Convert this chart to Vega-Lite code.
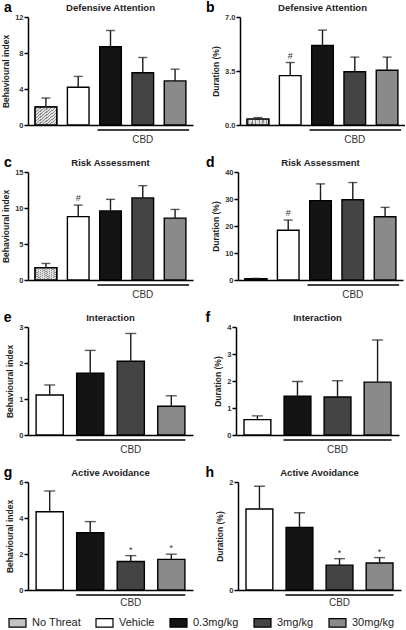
{
  "$schema": "https://vega.github.io/schema/vega-lite/v6.json",
  "padding": {"left": 1, "top": 1, "right": 0, "bottom": 0},
  "background": "white",
  "config": {
    "font": "Liberation Sans",
    "view": {"stroke": null},
    "range": {"category": ["#c4c4c4", "#ffffff", "#141414", "#444444", "#8a8a8a"]},
    "title": {"fontSize": 9.5, "fontWeight": "bold", "color": "#222", "offset": -11, "anchor": "middle", "frame": "group"},
    "axisY": {"domainColor": "black", "domainWidth": 1.5, "tickColor": "black", "tickWidth": 1.5, "tickSize": 4, "labelFontSize": 7.5, "labelFontWeight": "bold", "labelColor": "#333", "titleFontSize": 8.5, "titleFontWeight": "bold", "titleColor": "#222", "grid": false, "labelPadding": 1, "titlePadding": 4},
    "axisX": {"domainColor": "black", "domainWidth": 1.5, "labels": false, "ticks": false, "grid": false},
    "legend": {"orient": "none", "legendX": -20, "legendY": 596, "direction": "horizontal", "symbolType": "M-1,-0.5H1V0.5H-1Z", "symbolSize": 289, "symbolStrokeColor": "black", "symbolStrokeWidth": 1.2, "labelFontSize": 11, "labelColor": "#222", "columnPadding": 12, "labelOffset": 5}
  },
  "datasets": {
    "bars": [
      {"panel": "a", "group": "No Threat", "mean": 2.0, "upper": 3.0, "sig": ""},
      {"panel": "a", "group": "Vehicle", "mean": 4.2, "upper": 5.4, "sig": ""},
      {"panel": "a", "group": "0.3mg/kg", "mean": 8.7, "upper": 10.5, "sig": ""},
      {"panel": "a", "group": "3mg/kg", "mean": 5.8, "upper": 7.5, "sig": ""},
      {"panel": "a", "group": "30mg/kg", "mean": 4.9, "upper": 6.2, "sig": ""},
      {"panel": "b", "group": "No Threat", "mean": 0.38, "upper": 0.48, "sig": ""},
      {"panel": "b", "group": "Vehicle", "mean": 3.2, "upper": 4.05, "sig": "#"},
      {"panel": "b", "group": "0.3mg/kg", "mean": 5.15, "upper": 6.15, "sig": ""},
      {"panel": "b", "group": "3mg/kg", "mean": 3.45, "upper": 4.4, "sig": ""},
      {"panel": "b", "group": "30mg/kg", "mean": 3.55, "upper": 4.4, "sig": ""},
      {"panel": "c", "group": "No Threat", "mean": 1.7, "upper": 2.3, "sig": ""},
      {"panel": "c", "group": "Vehicle", "mean": 8.8, "upper": 10.4, "sig": "#"},
      {"panel": "c", "group": "0.3mg/kg", "mean": 9.6, "upper": 11.2, "sig": ""},
      {"panel": "c", "group": "3mg/kg", "mean": 11.4, "upper": 13.1, "sig": ""},
      {"panel": "c", "group": "30mg/kg", "mean": 8.6, "upper": 9.8, "sig": ""},
      {"panel": "d", "group": "No Threat", "mean": 0.5, "upper": 0.6, "sig": ""},
      {"panel": "d", "group": "Vehicle", "mean": 18.4, "upper": 22.2, "sig": "#"},
      {"panel": "d", "group": "0.3mg/kg", "mean": 29.4, "upper": 35.6, "sig": ""},
      {"panel": "d", "group": "3mg/kg", "mean": 29.7, "upper": 36.1, "sig": ""},
      {"panel": "d", "group": "30mg/kg", "mean": 23.4, "upper": 26.9, "sig": ""},
      {"panel": "e", "group": "Vehicle", "mean": 1.11, "upper": 1.39, "sig": ""},
      {"panel": "e", "group": "0.3mg/kg", "mean": 1.72, "upper": 2.35, "sig": ""},
      {"panel": "e", "group": "3mg/kg", "mean": 2.05, "upper": 2.82, "sig": ""},
      {"panel": "e", "group": "30mg/kg", "mean": 0.8, "upper": 1.09, "sig": ""},
      {"panel": "f", "group": "Vehicle", "mean": 0.57, "upper": 0.71, "sig": ""},
      {"panel": "f", "group": "0.3mg/kg", "mean": 1.44, "upper": 1.98, "sig": ""},
      {"panel": "f", "group": "3mg/kg", "mean": 1.41, "upper": 2.01, "sig": ""},
      {"panel": "f", "group": "30mg/kg", "mean": 1.96, "upper": 3.52, "sig": ""},
      {"panel": "g", "group": "Vehicle", "mean": 4.35, "upper": 5.5, "sig": ""},
      {"panel": "g", "group": "0.3mg/kg", "mean": 3.18, "upper": 3.8, "sig": ""},
      {"panel": "g", "group": "3mg/kg", "mean": 1.58, "upper": 1.91, "sig": "*"},
      {"panel": "g", "group": "30mg/kg", "mean": 1.7, "upper": 1.99, "sig": "*"},
      {"panel": "h", "group": "Vehicle", "mean": 1.5, "upper": 1.92, "sig": ""},
      {"panel": "h", "group": "0.3mg/kg", "mean": 1.16, "upper": 1.43, "sig": ""},
      {"panel": "h", "group": "3mg/kg", "mean": 0.46, "upper": 0.58, "sig": "*"},
      {"panel": "h", "group": "30mg/kg", "mean": 0.5, "upper": 0.6, "sig": "*"}
    ],
    "notes": [
      {"panel": "a", "letter": "a", "start": "0.3mg/kg", "end": "30mg/kg", "mid": "3mg/kg", "label": "CBD"},
      {"panel": "b", "letter": "b", "start": "0.3mg/kg", "end": "30mg/kg", "mid": "3mg/kg", "label": "CBD"},
      {"panel": "c", "letter": "c", "start": "0.3mg/kg", "end": "30mg/kg", "mid": "3mg/kg", "label": "CBD"},
      {"panel": "d", "letter": "d", "start": "0.3mg/kg", "end": "30mg/kg", "mid": "3mg/kg", "label": "CBD"},
      {"panel": "e", "letter": "e", "start": "0.3mg/kg", "end": "30mg/kg", "mid": "3mg/kg", "label": "CBD"},
      {"panel": "f", "letter": "f", "start": "0.3mg/kg", "end": "30mg/kg", "mid": "3mg/kg", "label": "CBD"},
      {"panel": "g", "letter": "g", "start": "0.3mg/kg", "end": "30mg/kg", "mid": "3mg/kg", "label": "CBD"},
      {"panel": "h", "letter": "h", "start": "0.3mg/kg", "end": "30mg/kg", "mid": "3mg/kg", "label": "CBD"}
    ]
  },
  "spacing": 11,
  "vconcat": [
    {"spacing": 12, "hconcat": [
      {"width": 165, "height": 108, "title": "Defensive Attention", "data": {"name": "bars"},
       "encoding": {"x": {"field": "group", "type": "nominal", "title": null, "scale": {"domain": ["No Threat", "Vehicle", "0.3mg/kg", "3mg/kg", "30mg/kg"], "paddingInner": 0.33, "paddingOuter": 0.22}}},
       "layer": [
        {"transform": [{"filter": "datum.panel === 'a'"}], "mark": {"type": "bar", "stroke": "black", "strokeWidth": 1.4},
         "encoding": {"y": {"field": "mean", "type": "quantitative", "title": "Behavioural index", "scale": {"domain": [0, 12], "nice": false}, "axis": {"values": [0, 4, 8, 12], "format": "d"}},
                      "color": {"field": "group", "type": "nominal", "title": null, "scale": {"domain": ["No Threat", "Vehicle", "0.3mg/kg", "3mg/kg", "30mg/kg"]}}}},
        {"transform": [{"filter": "datum.panel === 'a' && datum.group === 'No Threat'"}], "mark": {"type": "bar", "stroke": "black", "strokeWidth": 1.4, "fill": {"gradient": "linear", "x1": 0, "y1": 0, "x2": 1, "y2": 1, "stops": [
            {"offset": 0, "color": "#e0e0e0"}, {"offset": 0.055, "color": "#e0e0e0"}, {"offset": 0.055, "color": "#8c8c8c"}, {"offset": 0.0833, "color": "#8c8c8c"},
            {"offset": 0.0833, "color": "#e0e0e0"}, {"offset": 0.1383, "color": "#e0e0e0"}, {"offset": 0.1383, "color": "#8c8c8c"}, {"offset": 0.1667, "color": "#8c8c8c"},
            {"offset": 0.1667, "color": "#e0e0e0"}, {"offset": 0.2217, "color": "#e0e0e0"}, {"offset": 0.2217, "color": "#8c8c8c"}, {"offset": 0.25, "color": "#8c8c8c"},
            {"offset": 0.25, "color": "#e0e0e0"}, {"offset": 0.305, "color": "#e0e0e0"}, {"offset": 0.305, "color": "#8c8c8c"}, {"offset": 0.3333, "color": "#8c8c8c"},
            {"offset": 0.3333, "color": "#e0e0e0"}, {"offset": 0.3883, "color": "#e0e0e0"}, {"offset": 0.3883, "color": "#8c8c8c"}, {"offset": 0.4167, "color": "#8c8c8c"},
            {"offset": 0.4167, "color": "#e0e0e0"}, {"offset": 0.4717, "color": "#e0e0e0"}, {"offset": 0.4717, "color": "#8c8c8c"}, {"offset": 0.5, "color": "#8c8c8c"},
            {"offset": 0.5, "color": "#e0e0e0"}, {"offset": 0.555, "color": "#e0e0e0"}, {"offset": 0.555, "color": "#8c8c8c"}, {"offset": 0.5833, "color": "#8c8c8c"},
            {"offset": 0.5833, "color": "#e0e0e0"}, {"offset": 0.6383, "color": "#e0e0e0"}, {"offset": 0.6383, "color": "#8c8c8c"}, {"offset": 0.6667, "color": "#8c8c8c"},
            {"offset": 0.6667, "color": "#e0e0e0"}, {"offset": 0.7217, "color": "#e0e0e0"}, {"offset": 0.7217, "color": "#8c8c8c"}, {"offset": 0.75, "color": "#8c8c8c"},
            {"offset": 0.75, "color": "#e0e0e0"}, {"offset": 0.805, "color": "#e0e0e0"}, {"offset": 0.805, "color": "#8c8c8c"}, {"offset": 0.8333, "color": "#8c8c8c"},
            {"offset": 0.8333, "color": "#e0e0e0"}, {"offset": 0.8883, "color": "#e0e0e0"}, {"offset": 0.8883, "color": "#8c8c8c"}, {"offset": 0.9167, "color": "#8c8c8c"},
            {"offset": 0.9167, "color": "#e0e0e0"}, {"offset": 0.9717, "color": "#e0e0e0"}, {"offset": 0.9717, "color": "#8c8c8c"}, {"offset": 1, "color": "#8c8c8c"}]}},
         "encoding": {"y": {"field": "mean", "type": "quantitative", "title": "Behavioural index", "axis": {"values": [0, 4, 8, 12], "format": "d"}}}},
        {"transform": [{"filter": "datum.panel === 'a'"}], "mark": {"type": "rule", "color": "#1a1a1a", "strokeWidth": 1.4},
         "encoding": {"y": {"field": "mean", "type": "quantitative", "title": "Behavioural index", "axis": {"values": [0, 4, 8, 12], "format": "d"}}, "y2": {"field": "upper"}}},
        {"transform": [{"filter": "datum.panel === 'a'"}], "mark": {"type": "tick", "color": "#1a1a1a", "thickness": 1.4, "size": 9},
         "encoding": {"y": {"field": "upper", "type": "quantitative", "title": "Behavioural index", "axis": {"values": [0, 4, 8, 12], "format": "d"}}}},
        {"transform": [{"filter": "datum.panel === 'a'"}], "mark": {"type": "text", "fontSize": 9, "baseline": "bottom", "dy": -2, "color": "#333"},
         "encoding": {"y": {"field": "upper", "type": "quantitative", "title": "Behavioural index", "axis": {"values": [0, 4, 8, 12], "format": "d"}}, "text": {"field": "sig"}}},
        {"data": {"name": "notes"}, "transform": [{"filter": "datum.panel === 'a'"}], "mark": {"type": "rule", "color": "black", "strokeWidth": 1.4, "xOffset": -13, "x2Offset": 14, "yOffset": 5},
         "encoding": {"x": {"field": "start", "type": "nominal", "title": null}, "x2": {"field": "end"}, "y": {"datum": 0, "type": "quantitative", "title": "Behavioural index", "axis": {"values": [0, 4, 8, 12], "format": "d"}}}},
        {"data": {"name": "notes"}, "transform": [{"filter": "datum.panel === 'a'"}], "mark": {"type": "text", "fontSize": 10, "baseline": "top", "dy": 10, "color": "#333"},
         "encoding": {"x": {"field": "mid", "type": "nominal", "title": null}, "y": {"datum": 0, "type": "quantitative", "title": "Behavioural index", "axis": {"values": [0, 4, 8, 12], "format": "d"}}, "text": {"field": "label"}}},
        {"data": {"name": "notes"}, "transform": [{"filter": "datum.panel === 'a'"}], "mark": {"type": "text", "fontSize": 14, "fontWeight": "bold", "align": "left", "baseline": "alphabetic", "dx": -42, "dy": -5, "color": "black"},
         "encoding": {"x": {"datum": "No Threat", "type": "nominal", "title": null}, "y": {"datum": 12, "type": "quantitative", "title": "Behavioural index", "axis": {"values": [0, 4, 8, 12], "format": "d"}}, "text": {"field": "letter"}}}
       ]},
      {"width": 165, "height": 108, "title": "Defensive Attention", "data": {"name": "bars"},
       "encoding": {"x": {"field": "group", "type": "nominal", "title": null, "scale": {"domain": ["No Threat", "Vehicle", "0.3mg/kg", "3mg/kg", "30mg/kg"], "paddingInner": 0.33, "paddingOuter": 0.22}}},
       "layer": [
        {"transform": [{"filter": "datum.panel === 'b'"}], "mark": {"type": "bar", "stroke": "black", "strokeWidth": 1.4},
         "encoding": {"y": {"field": "mean", "type": "quantitative", "title": "Duration (%)", "scale": {"domain": [0, 7], "nice": false}, "axis": {"values": [0, 3.5, 7], "format": ".1f"}},
                      "color": {"field": "group", "type": "nominal", "title": null, "scale": {"domain": ["No Threat", "Vehicle", "0.3mg/kg", "3mg/kg", "30mg/kg"]}}}},
        {"transform": [{"filter": "datum.panel === 'b' && datum.group === 'No Threat'"}], "mark": {"type": "bar", "stroke": "black", "strokeWidth": 1.4, "fill": {"gradient": "linear", "x1": 0, "y1": 0, "x2": 1, "y2": 1, "stops": [
            {"offset": 0, "color": "#e0e0e0"}, {"offset": 0.055, "color": "#e0e0e0"}, {"offset": 0.055, "color": "#8c8c8c"}, {"offset": 0.0833, "color": "#8c8c8c"},
            {"offset": 0.0833, "color": "#e0e0e0"}, {"offset": 0.1383, "color": "#e0e0e0"}, {"offset": 0.1383, "color": "#8c8c8c"}, {"offset": 0.1667, "color": "#8c8c8c"},
            {"offset": 0.1667, "color": "#e0e0e0"}, {"offset": 0.2217, "color": "#e0e0e0"}, {"offset": 0.2217, "color": "#8c8c8c"}, {"offset": 0.25, "color": "#8c8c8c"},
            {"offset": 0.25, "color": "#e0e0e0"}, {"offset": 0.305, "color": "#e0e0e0"}, {"offset": 0.305, "color": "#8c8c8c"}, {"offset": 0.3333, "color": "#8c8c8c"},
            {"offset": 0.3333, "color": "#e0e0e0"}, {"offset": 0.3883, "color": "#e0e0e0"}, {"offset": 0.3883, "color": "#8c8c8c"}, {"offset": 0.4167, "color": "#8c8c8c"},
            {"offset": 0.4167, "color": "#e0e0e0"}, {"offset": 0.4717, "color": "#e0e0e0"}, {"offset": 0.4717, "color": "#8c8c8c"}, {"offset": 0.5, "color": "#8c8c8c"},
            {"offset": 0.5, "color": "#e0e0e0"}, {"offset": 0.555, "color": "#e0e0e0"}, {"offset": 0.555, "color": "#8c8c8c"}, {"offset": 0.5833, "color": "#8c8c8c"},
            {"offset": 0.5833, "color": "#e0e0e0"}, {"offset": 0.6383, "color": "#e0e0e0"}, {"offset": 0.6383, "color": "#8c8c8c"}, {"offset": 0.6667, "color": "#8c8c8c"},
            {"offset": 0.6667, "color": "#e0e0e0"}, {"offset": 0.7217, "color": "#e0e0e0"}, {"offset": 0.7217, "color": "#8c8c8c"}, {"offset": 0.75, "color": "#8c8c8c"},
            {"offset": 0.75, "color": "#e0e0e0"}, {"offset": 0.805, "color": "#e0e0e0"}, {"offset": 0.805, "color": "#8c8c8c"}, {"offset": 0.8333, "color": "#8c8c8c"},
            {"offset": 0.8333, "color": "#e0e0e0"}, {"offset": 0.8883, "color": "#e0e0e0"}, {"offset": 0.8883, "color": "#8c8c8c"}, {"offset": 0.9167, "color": "#8c8c8c"},
            {"offset": 0.9167, "color": "#e0e0e0"}, {"offset": 0.9717, "color": "#e0e0e0"}, {"offset": 0.9717, "color": "#8c8c8c"}, {"offset": 1, "color": "#8c8c8c"}]}},
         "encoding": {"y": {"field": "mean", "type": "quantitative", "title": "Duration (%)", "axis": {"values": [0, 3.5, 7], "format": ".1f"}}}},
        {"transform": [{"filter": "datum.panel === 'b'"}], "mark": {"type": "rule", "color": "#1a1a1a", "strokeWidth": 1.4},
         "encoding": {"y": {"field": "mean", "type": "quantitative", "title": "Duration (%)", "axis": {"values": [0, 3.5, 7], "format": ".1f"}}, "y2": {"field": "upper"}}},
        {"transform": [{"filter": "datum.panel === 'b'"}], "mark": {"type": "tick", "color": "#1a1a1a", "thickness": 1.4, "size": 9},
         "encoding": {"y": {"field": "upper", "type": "quantitative", "title": "Duration (%)", "axis": {"values": [0, 3.5, 7], "format": ".1f"}}}},
        {"transform": [{"filter": "datum.panel === 'b'"}], "mark": {"type": "text", "fontSize": 9, "baseline": "bottom", "dy": -2, "color": "#333"},
         "encoding": {"y": {"field": "upper", "type": "quantitative", "title": "Duration (%)", "axis": {"values": [0, 3.5, 7], "format": ".1f"}}, "text": {"field": "sig"}}},
        {"data": {"name": "notes"}, "transform": [{"filter": "datum.panel === 'b'"}], "mark": {"type": "rule", "color": "black", "strokeWidth": 1.4, "xOffset": -13, "x2Offset": 14, "yOffset": 5},
         "encoding": {"x": {"field": "start", "type": "nominal", "title": null}, "x2": {"field": "end"}, "y": {"datum": 0, "type": "quantitative", "title": "Duration (%)", "axis": {"values": [0, 3.5, 7], "format": ".1f"}}}},
        {"data": {"name": "notes"}, "transform": [{"filter": "datum.panel === 'b'"}], "mark": {"type": "text", "fontSize": 10, "baseline": "top", "dy": 10, "color": "#333"},
         "encoding": {"x": {"field": "mid", "type": "nominal", "title": null}, "y": {"datum": 0, "type": "quantitative", "title": "Duration (%)", "axis": {"values": [0, 3.5, 7], "format": ".1f"}}, "text": {"field": "label"}}},
        {"data": {"name": "notes"}, "transform": [{"filter": "datum.panel === 'b'"}], "mark": {"type": "text", "fontSize": 14, "fontWeight": "bold", "align": "left", "baseline": "alphabetic", "dx": -52, "dy": -5, "color": "black"},
         "encoding": {"x": {"datum": "No Threat", "type": "nominal", "title": null}, "y": {"datum": 7, "type": "quantitative", "title": "Duration (%)", "axis": {"values": [0, 3.5, 7], "format": ".1f"}}, "text": {"field": "letter"}}}
       ]}
    ]},
    {"spacing": 12, "hconcat": [
      {"width": 165, "height": 108, "title": "Risk Assessment", "data": {"name": "bars"},
       "encoding": {"x": {"field": "group", "type": "nominal", "title": null, "scale": {"domain": ["No Threat", "Vehicle", "0.3mg/kg", "3mg/kg", "30mg/kg"], "paddingInner": 0.33, "paddingOuter": 0.22}}},
       "layer": [
        {"transform": [{"filter": "datum.panel === 'c'"}], "mark": {"type": "bar", "stroke": "black", "strokeWidth": 1.4},
         "encoding": {"y": {"field": "mean", "type": "quantitative", "title": "Behavioural index", "scale": {"domain": [0, 15], "nice": false}, "axis": {"values": [0, 5, 10, 15], "format": "d"}},
                      "color": {"field": "group", "type": "nominal", "title": null, "scale": {"domain": ["No Threat", "Vehicle", "0.3mg/kg", "3mg/kg", "30mg/kg"]}}}},
        {"transform": [{"filter": "datum.panel === 'c' && datum.group === 'No Threat'"}], "mark": {"type": "bar", "stroke": "black", "strokeWidth": 1.4, "fill": {"gradient": "linear", "x1": 0, "y1": 0, "x2": 1, "y2": 1, "stops": [
            {"offset": 0, "color": "#e0e0e0"}, {"offset": 0.055, "color": "#e0e0e0"}, {"offset": 0.055, "color": "#8c8c8c"}, {"offset": 0.0833, "color": "#8c8c8c"},
            {"offset": 0.0833, "color": "#e0e0e0"}, {"offset": 0.1383, "color": "#e0e0e0"}, {"offset": 0.1383, "color": "#8c8c8c"}, {"offset": 0.1667, "color": "#8c8c8c"},
            {"offset": 0.1667, "color": "#e0e0e0"}, {"offset": 0.2217, "color": "#e0e0e0"}, {"offset": 0.2217, "color": "#8c8c8c"}, {"offset": 0.25, "color": "#8c8c8c"},
            {"offset": 0.25, "color": "#e0e0e0"}, {"offset": 0.305, "color": "#e0e0e0"}, {"offset": 0.305, "color": "#8c8c8c"}, {"offset": 0.3333, "color": "#8c8c8c"},
            {"offset": 0.3333, "color": "#e0e0e0"}, {"offset": 0.3883, "color": "#e0e0e0"}, {"offset": 0.3883, "color": "#8c8c8c"}, {"offset": 0.4167, "color": "#8c8c8c"},
            {"offset": 0.4167, "color": "#e0e0e0"}, {"offset": 0.4717, "color": "#e0e0e0"}, {"offset": 0.4717, "color": "#8c8c8c"}, {"offset": 0.5, "color": "#8c8c8c"},
            {"offset": 0.5, "color": "#e0e0e0"}, {"offset": 0.555, "color": "#e0e0e0"}, {"offset": 0.555, "color": "#8c8c8c"}, {"offset": 0.5833, "color": "#8c8c8c"},
            {"offset": 0.5833, "color": "#e0e0e0"}, {"offset": 0.6383, "color": "#e0e0e0"}, {"offset": 0.6383, "color": "#8c8c8c"}, {"offset": 0.6667, "color": "#8c8c8c"},
            {"offset": 0.6667, "color": "#e0e0e0"}, {"offset": 0.7217, "color": "#e0e0e0"}, {"offset": 0.7217, "color": "#8c8c8c"}, {"offset": 0.75, "color": "#8c8c8c"},
            {"offset": 0.75, "color": "#e0e0e0"}, {"offset": 0.805, "color": "#e0e0e0"}, {"offset": 0.805, "color": "#8c8c8c"}, {"offset": 0.8333, "color": "#8c8c8c"},
            {"offset": 0.8333, "color": "#e0e0e0"}, {"offset": 0.8883, "color": "#e0e0e0"}, {"offset": 0.8883, "color": "#8c8c8c"}, {"offset": 0.9167, "color": "#8c8c8c"},
            {"offset": 0.9167, "color": "#e0e0e0"}, {"offset": 0.9717, "color": "#e0e0e0"}, {"offset": 0.9717, "color": "#8c8c8c"}, {"offset": 1, "color": "#8c8c8c"}]}},
         "encoding": {"y": {"field": "mean", "type": "quantitative", "title": "Behavioural index", "axis": {"values": [0, 5, 10, 15], "format": "d"}}}},
        {"transform": [{"filter": "datum.panel === 'c'"}], "mark": {"type": "rule", "color": "#1a1a1a", "strokeWidth": 1.4},
         "encoding": {"y": {"field": "mean", "type": "quantitative", "title": "Behavioural index", "axis": {"values": [0, 5, 10, 15], "format": "d"}}, "y2": {"field": "upper"}}},
        {"transform": [{"filter": "datum.panel === 'c'"}], "mark": {"type": "tick", "color": "#1a1a1a", "thickness": 1.4, "size": 9},
         "encoding": {"y": {"field": "upper", "type": "quantitative", "title": "Behavioural index", "axis": {"values": [0, 5, 10, 15], "format": "d"}}}},
        {"transform": [{"filter": "datum.panel === 'c'"}], "mark": {"type": "text", "fontSize": 9, "baseline": "bottom", "dy": -2, "color": "#333"},
         "encoding": {"y": {"field": "upper", "type": "quantitative", "title": "Behavioural index", "axis": {"values": [0, 5, 10, 15], "format": "d"}}, "text": {"field": "sig"}}},
        {"data": {"name": "notes"}, "transform": [{"filter": "datum.panel === 'c'"}], "mark": {"type": "rule", "color": "black", "strokeWidth": 1.4, "xOffset": -13, "x2Offset": 14, "yOffset": 5},
         "encoding": {"x": {"field": "start", "type": "nominal", "title": null}, "x2": {"field": "end"}, "y": {"datum": 0, "type": "quantitative", "title": "Behavioural index", "axis": {"values": [0, 5, 10, 15], "format": "d"}}}},
        {"data": {"name": "notes"}, "transform": [{"filter": "datum.panel === 'c'"}], "mark": {"type": "text", "fontSize": 10, "baseline": "top", "dy": 10, "color": "#333"},
         "encoding": {"x": {"field": "mid", "type": "nominal", "title": null}, "y": {"datum": 0, "type": "quantitative", "title": "Behavioural index", "axis": {"values": [0, 5, 10, 15], "format": "d"}}, "text": {"field": "label"}}},
        {"data": {"name": "notes"}, "transform": [{"filter": "datum.panel === 'c'"}], "mark": {"type": "text", "fontSize": 14, "fontWeight": "bold", "align": "left", "baseline": "alphabetic", "dx": -42, "dy": -5, "color": "black"},
         "encoding": {"x": {"datum": "No Threat", "type": "nominal", "title": null}, "y": {"datum": 15, "type": "quantitative", "title": "Behavioural index", "axis": {"values": [0, 5, 10, 15], "format": "d"}}, "text": {"field": "letter"}}}
       ]},
      {"width": 165, "height": 108, "title": "Risk Assessment", "data": {"name": "bars"},
       "encoding": {"x": {"field": "group", "type": "nominal", "title": null, "scale": {"domain": ["No Threat", "Vehicle", "0.3mg/kg", "3mg/kg", "30mg/kg"], "paddingInner": 0.33, "paddingOuter": 0.22}}},
       "layer": [
        {"transform": [{"filter": "datum.panel === 'd'"}], "mark": {"type": "bar", "stroke": "black", "strokeWidth": 1.4},
         "encoding": {"y": {"field": "mean", "type": "quantitative", "title": "Duration (%)", "scale": {"domain": [0, 40], "nice": false}, "axis": {"values": [0, 10, 20, 30, 40], "format": "d"}},
                      "color": {"field": "group", "type": "nominal", "title": null, "scale": {"domain": ["No Threat", "Vehicle", "0.3mg/kg", "3mg/kg", "30mg/kg"]}}}},
        {"transform": [{"filter": "datum.panel === 'd' && datum.group === 'No Threat'"}], "mark": {"type": "bar", "stroke": "black", "strokeWidth": 1.4, "fill": "#c4c4c4"},
         "encoding": {"y": {"field": "mean", "type": "quantitative", "title": "Duration (%)", "axis": {"values": [0, 10, 20, 30, 40], "format": "d"}}}},
        {"transform": [{"filter": "datum.panel === 'd'"}], "mark": {"type": "rule", "color": "#1a1a1a", "strokeWidth": 1.4},
         "encoding": {"y": {"field": "mean", "type": "quantitative", "title": "Duration (%)", "axis": {"values": [0, 10, 20, 30, 40], "format": "d"}}, "y2": {"field": "upper"}}},
        {"transform": [{"filter": "datum.panel === 'd'"}], "mark": {"type": "tick", "color": "#1a1a1a", "thickness": 1.4, "size": 9},
         "encoding": {"y": {"field": "upper", "type": "quantitative", "title": "Duration (%)", "axis": {"values": [0, 10, 20, 30, 40], "format": "d"}}}},
        {"transform": [{"filter": "datum.panel === 'd'"}], "mark": {"type": "text", "fontSize": 9, "baseline": "bottom", "dy": -2, "color": "#333"},
         "encoding": {"y": {"field": "upper", "type": "quantitative", "title": "Duration (%)", "axis": {"values": [0, 10, 20, 30, 40], "format": "d"}}, "text": {"field": "sig"}}},
        {"data": {"name": "notes"}, "transform": [{"filter": "datum.panel === 'd'"}], "mark": {"type": "rule", "color": "black", "strokeWidth": 1.4, "xOffset": -13, "x2Offset": 14, "yOffset": 5},
         "encoding": {"x": {"field": "start", "type": "nominal", "title": null}, "x2": {"field": "end"}, "y": {"datum": 0, "type": "quantitative", "title": "Duration (%)", "axis": {"values": [0, 10, 20, 30, 40], "format": "d"}}}},
        {"data": {"name": "notes"}, "transform": [{"filter": "datum.panel === 'd'"}], "mark": {"type": "text", "fontSize": 10, "baseline": "top", "dy": 10, "color": "#333"},
         "encoding": {"x": {"field": "mid", "type": "nominal", "title": null}, "y": {"datum": 0, "type": "quantitative", "title": "Duration (%)", "axis": {"values": [0, 10, 20, 30, 40], "format": "d"}}, "text": {"field": "label"}}},
        {"data": {"name": "notes"}, "transform": [{"filter": "datum.panel === 'd'"}], "mark": {"type": "text", "fontSize": 14, "fontWeight": "bold", "align": "left", "baseline": "alphabetic", "dx": -50, "dy": -5, "color": "black"},
         "encoding": {"x": {"datum": "No Threat", "type": "nominal", "title": null}, "y": {"datum": 40, "type": "quantitative", "title": "Duration (%)", "axis": {"values": [0, 10, 20, 30, 40], "format": "d"}}, "text": {"field": "letter"}}}
       ]}
    ]},
    {"spacing": 12, "hconcat": [
      {"width": 165, "height": 108, "title": "Interaction", "data": {"name": "bars"},
       "encoding": {"x": {"field": "group", "type": "nominal", "title": null, "scale": {"domain": ["Vehicle", "0.3mg/kg", "3mg/kg", "30mg/kg"], "paddingInner": 0.33, "paddingOuter": 0.2}}},
       "layer": [
        {"transform": [{"filter": "datum.panel === 'e'"}], "mark": {"type": "bar", "stroke": "black", "strokeWidth": 1.4},
         "encoding": {"y": {"field": "mean", "type": "quantitative", "title": "Behavioural index", "scale": {"domain": [0, 3], "nice": false}, "axis": {"values": [0, 1, 2, 3], "format": "d"}},
                      "color": {"field": "group", "type": "nominal", "title": null, "scale": {"domain": ["No Threat", "Vehicle", "0.3mg/kg", "3mg/kg", "30mg/kg"]}}}},
        {"transform": [{"filter": "datum.panel === 'e'"}], "mark": {"type": "rule", "color": "#1a1a1a", "strokeWidth": 1.4},
         "encoding": {"y": {"field": "mean", "type": "quantitative", "title": "Behavioural index", "axis": {"values": [0, 1, 2, 3], "format": "d"}}, "y2": {"field": "upper"}}},
        {"transform": [{"filter": "datum.panel === 'e'"}], "mark": {"type": "tick", "color": "#1a1a1a", "thickness": 1.4, "size": 11},
         "encoding": {"y": {"field": "upper", "type": "quantitative", "title": "Behavioural index", "axis": {"values": [0, 1, 2, 3], "format": "d"}}}},
        {"transform": [{"filter": "datum.panel === 'e'"}], "mark": {"type": "text", "fontSize": 9, "baseline": "bottom", "dy": -2, "color": "#333"},
         "encoding": {"y": {"field": "upper", "type": "quantitative", "title": "Behavioural index", "axis": {"values": [0, 1, 2, 3], "format": "d"}}, "text": {"field": "sig"}}},
        {"data": {"name": "notes"}, "transform": [{"filter": "datum.panel === 'e'"}], "mark": {"type": "rule", "color": "black", "strokeWidth": 1.4, "xOffset": -14, "x2Offset": 14, "yOffset": 5},
         "encoding": {"x": {"field": "start", "type": "nominal", "title": null}, "x2": {"field": "end"}, "y": {"datum": 0, "type": "quantitative", "title": "Behavioural index", "axis": {"values": [0, 1, 2, 3], "format": "d"}}}},
        {"data": {"name": "notes"}, "transform": [{"filter": "datum.panel === 'e'"}], "mark": {"type": "text", "fontSize": 10, "baseline": "top", "dy": 10, "color": "#333"},
         "encoding": {"x": {"field": "mid", "type": "nominal", "title": null}, "y": {"datum": 0, "type": "quantitative", "title": "Behavioural index", "axis": {"values": [0, 1, 2, 3], "format": "d"}}, "text": {"field": "label"}}},
        {"data": {"name": "notes"}, "transform": [{"filter": "datum.panel === 'e'"}], "mark": {"type": "text", "fontSize": 14, "fontWeight": "bold", "align": "left", "baseline": "alphabetic", "dx": -46, "dy": -5, "color": "black"},
         "encoding": {"x": {"datum": "Vehicle", "type": "nominal", "title": null}, "y": {"datum": 3, "type": "quantitative", "title": "Behavioural index", "axis": {"values": [0, 1, 2, 3], "format": "d"}}, "text": {"field": "letter"}}}
       ]},
      {"width": 163, "height": 108, "title": "Interaction", "data": {"name": "bars"},
       "encoding": {"x": {"field": "group", "type": "nominal", "title": null, "scale": {"domain": ["Vehicle", "0.3mg/kg", "3mg/kg", "30mg/kg"], "paddingInner": 0.33, "paddingOuter": 0.2}}},
       "layer": [
        {"transform": [{"filter": "datum.panel === 'f'"}], "mark": {"type": "bar", "stroke": "black", "strokeWidth": 1.4},
         "encoding": {"y": {"field": "mean", "type": "quantitative", "title": "Duration (%)", "scale": {"domain": [0, 4], "nice": false}, "axis": {"values": [0, 1, 2, 3, 4], "format": "d"}},
                      "color": {"field": "group", "type": "nominal", "title": null, "scale": {"domain": ["No Threat", "Vehicle", "0.3mg/kg", "3mg/kg", "30mg/kg"]}}}},
        {"transform": [{"filter": "datum.panel === 'f'"}], "mark": {"type": "rule", "color": "#1a1a1a", "strokeWidth": 1.4},
         "encoding": {"y": {"field": "mean", "type": "quantitative", "title": "Duration (%)", "axis": {"values": [0, 1, 2, 3, 4], "format": "d"}}, "y2": {"field": "upper"}}},
        {"transform": [{"filter": "datum.panel === 'f'"}], "mark": {"type": "tick", "color": "#1a1a1a", "thickness": 1.4, "size": 11},
         "encoding": {"y": {"field": "upper", "type": "quantitative", "title": "Duration (%)", "axis": {"values": [0, 1, 2, 3, 4], "format": "d"}}}},
        {"transform": [{"filter": "datum.panel === 'f'"}], "mark": {"type": "text", "fontSize": 9, "baseline": "bottom", "dy": -2, "color": "#333"},
         "encoding": {"y": {"field": "upper", "type": "quantitative", "title": "Duration (%)", "axis": {"values": [0, 1, 2, 3, 4], "format": "d"}}, "text": {"field": "sig"}}},
        {"data": {"name": "notes"}, "transform": [{"filter": "datum.panel === 'f'"}], "mark": {"type": "rule", "color": "black", "strokeWidth": 1.4, "xOffset": -14, "x2Offset": 14, "yOffset": 5},
         "encoding": {"x": {"field": "start", "type": "nominal", "title": null}, "x2": {"field": "end"}, "y": {"datum": 0, "type": "quantitative", "title": "Duration (%)", "axis": {"values": [0, 1, 2, 3, 4], "format": "d"}}}},
        {"data": {"name": "notes"}, "transform": [{"filter": "datum.panel === 'f'"}], "mark": {"type": "text", "fontSize": 10, "baseline": "top", "dy": 10, "color": "#333"},
         "encoding": {"x": {"field": "mid", "type": "nominal", "title": null}, "y": {"datum": 0, "type": "quantitative", "title": "Duration (%)", "axis": {"values": [0, 1, 2, 3, 4], "format": "d"}}, "text": {"field": "label"}}},
        {"data": {"name": "notes"}, "transform": [{"filter": "datum.panel === 'f'"}], "mark": {"type": "text", "fontSize": 14, "fontWeight": "bold", "align": "left", "baseline": "alphabetic", "dx": -52, "dy": -5, "color": "black"},
         "encoding": {"x": {"datum": "Vehicle", "type": "nominal", "title": null}, "y": {"datum": 4, "type": "quantitative", "title": "Duration (%)", "axis": {"values": [0, 1, 2, 3, 4], "format": "d"}}, "text": {"field": "letter"}}}
       ]}
    ]},
    {"spacing": 12, "hconcat": [
      {"width": 165, "height": 108, "title": "Active Avoidance", "data": {"name": "bars"},
       "encoding": {"x": {"field": "group", "type": "nominal", "title": null, "scale": {"domain": ["Vehicle", "0.3mg/kg", "3mg/kg", "30mg/kg"], "paddingInner": 0.33, "paddingOuter": 0.2}}},
       "layer": [
        {"transform": [{"filter": "datum.panel === 'g'"}], "mark": {"type": "bar", "stroke": "black", "strokeWidth": 1.4},
         "encoding": {"y": {"field": "mean", "type": "quantitative", "title": "Behavioural index", "scale": {"domain": [0, 6], "nice": false}, "axis": {"values": [0, 2, 4, 6], "format": "d"}},
                      "color": {"field": "group", "type": "nominal", "title": null, "scale": {"domain": ["No Threat", "Vehicle", "0.3mg/kg", "3mg/kg", "30mg/kg"]}}}},
        {"transform": [{"filter": "datum.panel === 'g'"}], "mark": {"type": "rule", "color": "#1a1a1a", "strokeWidth": 1.4},
         "encoding": {"y": {"field": "mean", "type": "quantitative", "title": "Behavioural index", "axis": {"values": [0, 2, 4, 6], "format": "d"}}, "y2": {"field": "upper"}}},
        {"transform": [{"filter": "datum.panel === 'g'"}], "mark": {"type": "tick", "color": "#1a1a1a", "thickness": 1.4, "size": 11},
         "encoding": {"y": {"field": "upper", "type": "quantitative", "title": "Behavioural index", "axis": {"values": [0, 2, 4, 6], "format": "d"}}}},
        {"transform": [{"filter": "datum.panel === 'g'"}], "mark": {"type": "text", "fontSize": 9, "baseline": "bottom", "dy": -1, "color": "#333"},
         "encoding": {"y": {"field": "upper", "type": "quantitative", "title": "Behavioural index", "axis": {"values": [0, 2, 4, 6], "format": "d"}}, "text": {"field": "sig"}}},
        {"data": {"name": "notes"}, "transform": [{"filter": "datum.panel === 'g'"}], "mark": {"type": "rule", "color": "black", "strokeWidth": 1.4, "xOffset": -14, "x2Offset": 14, "yOffset": 5},
         "encoding": {"x": {"field": "start", "type": "nominal", "title": null}, "x2": {"field": "end"}, "y": {"datum": 0, "type": "quantitative", "title": "Behavioural index", "axis": {"values": [0, 2, 4, 6], "format": "d"}}}},
        {"data": {"name": "notes"}, "transform": [{"filter": "datum.panel === 'g'"}], "mark": {"type": "text", "fontSize": 10, "baseline": "top", "dy": 8, "color": "#333"},
         "encoding": {"x": {"field": "mid", "type": "nominal", "title": null}, "y": {"datum": 0, "type": "quantitative", "title": "Behavioural index", "axis": {"values": [0, 2, 4, 6], "format": "d"}}, "text": {"field": "label"}}},
        {"data": {"name": "notes"}, "transform": [{"filter": "datum.panel === 'g'"}], "mark": {"type": "text", "fontSize": 14, "fontWeight": "bold", "align": "left", "baseline": "alphabetic", "dx": -46, "dy": -5, "color": "black"},
         "encoding": {"x": {"datum": "Vehicle", "type": "nominal", "title": null}, "y": {"datum": 6, "type": "quantitative", "title": "Behavioural index", "axis": {"values": [0, 2, 4, 6], "format": "d"}}, "text": {"field": "letter"}}}
       ]},
      {"width": 163, "height": 108, "title": "Active Avoidance", "data": {"name": "bars"},
       "encoding": {"x": {"field": "group", "type": "nominal", "title": null, "scale": {"domain": ["Vehicle", "0.3mg/kg", "3mg/kg", "30mg/kg"], "paddingInner": 0.33, "paddingOuter": 0.2}}},
       "layer": [
        {"transform": [{"filter": "datum.panel === 'h'"}], "mark": {"type": "bar", "stroke": "black", "strokeWidth": 1.4},
         "encoding": {"y": {"field": "mean", "type": "quantitative", "title": "Duration (%)", "scale": {"domain": [0, 2], "nice": false}, "axis": {"values": [0, 1, 2], "format": "d"}},
                      "color": {"field": "group", "type": "nominal", "title": null, "scale": {"domain": ["No Threat", "Vehicle", "0.3mg/kg", "3mg/kg", "30mg/kg"]}}}},
        {"transform": [{"filter": "datum.panel === 'h'"}], "mark": {"type": "rule", "color": "#1a1a1a", "strokeWidth": 1.4},
         "encoding": {"y": {"field": "mean", "type": "quantitative", "title": "Duration (%)", "axis": {"values": [0, 1, 2], "format": "d"}}, "y2": {"field": "upper"}}},
        {"transform": [{"filter": "datum.panel === 'h'"}], "mark": {"type": "tick", "color": "#1a1a1a", "thickness": 1.4, "size": 11},
         "encoding": {"y": {"field": "upper", "type": "quantitative", "title": "Duration (%)", "axis": {"values": [0, 1, 2], "format": "d"}}}},
        {"transform": [{"filter": "datum.panel === 'h'"}], "mark": {"type": "text", "fontSize": 9, "baseline": "bottom", "dy": -1, "color": "#333"},
         "encoding": {"y": {"field": "upper", "type": "quantitative", "title": "Duration (%)", "axis": {"values": [0, 1, 2], "format": "d"}}, "text": {"field": "sig"}}},
        {"data": {"name": "notes"}, "transform": [{"filter": "datum.panel === 'h'"}], "mark": {"type": "rule", "color": "black", "strokeWidth": 1.4, "xOffset": -14, "x2Offset": 14, "yOffset": 5},
         "encoding": {"x": {"field": "start", "type": "nominal", "title": null}, "x2": {"field": "end"}, "y": {"datum": 0, "type": "quantitative", "title": "Duration (%)", "axis": {"values": [0, 1, 2], "format": "d"}}}},
        {"data": {"name": "notes"}, "transform": [{"filter": "datum.panel === 'h'"}], "mark": {"type": "text", "fontSize": 10, "baseline": "top", "dy": 8, "color": "#333"},
         "encoding": {"x": {"field": "mid", "type": "nominal", "title": null}, "y": {"datum": 0, "type": "quantitative", "title": "Duration (%)", "axis": {"values": [0, 1, 2], "format": "d"}}, "text": {"field": "label"}}},
        {"data": {"name": "notes"}, "transform": [{"filter": "datum.panel === 'h'"}], "mark": {"type": "text", "fontSize": 14, "fontWeight": "bold", "align": "left", "baseline": "alphabetic", "dx": -54, "dy": -5, "color": "black"},
         "encoding": {"x": {"datum": "Vehicle", "type": "nominal", "title": null}, "y": {"datum": 2, "type": "quantitative", "title": "Duration (%)", "axis": {"values": [0, 1, 2], "format": "d"}}, "text": {"field": "letter"}}}
       ]}
    ]}
  ]
}
